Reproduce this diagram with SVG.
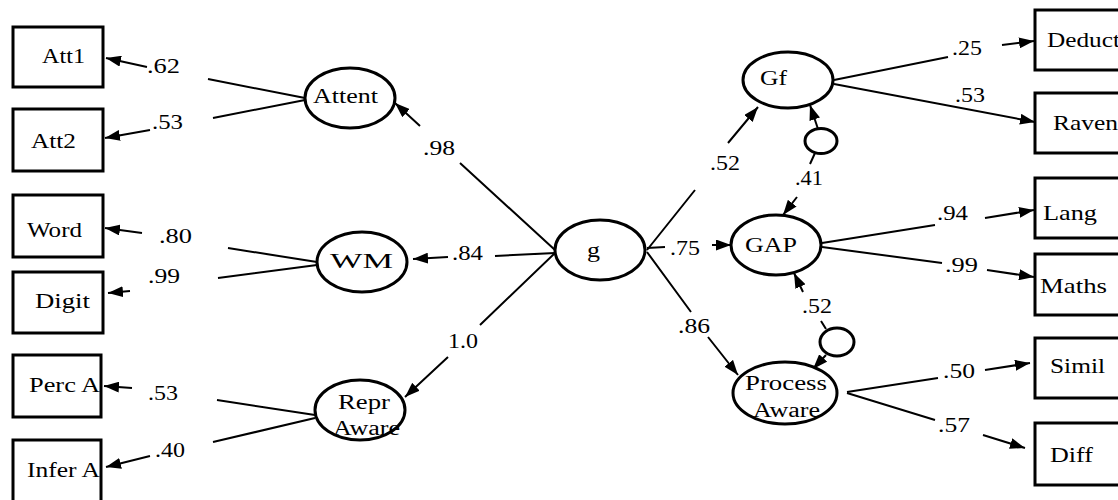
<svg xmlns="http://www.w3.org/2000/svg" width="1118" height="500" viewBox="0 0 1118 500">
<style>
text{fill:#000}
.n{font-size:22px}
.s{font-size:20px}
.v{font-size:21px}
.box{fill:#fff;stroke:#000;stroke-width:3}
.ell{fill:#fff;stroke:#000;stroke-width:3}
.c{fill:none;stroke:#000;stroke-width:2}
</style>
<defs>
<marker id="ah" markerUnits="userSpaceOnUse" markerWidth="15" markerHeight="11" refX="15" refY="5.5" orient="auto">
<path d="M0,0 L15,5.5 L0,11 z" fill="#000"/>
</marker>
</defs>
<rect width="1118" height="500" fill="#fff"/>
<g id="connectors">
<path class="c" d="M305,98 L208,79 M147,67 L106,58" marker-end="url(#ah)"/>
<path class="c" d="M305,100 L213,118 M150,130 L105,138" marker-end="url(#ah)"/>
<path class="c" d="M317,262 L228,248 M142,233 L105,228" marker-end="url(#ah)"/>
<path class="c" d="M317,265 L218,278 M130,291 L108,293" marker-end="url(#ah)"/>
<path class="c" d="M315,415 L217,400 M132,388 L104,386" marker-end="url(#ah)"/>
<path class="c" d="M315,418 L213,442 M150,456 L106,467" marker-end="url(#ah)"/>
<path class="c" d="M555,250 L460,163 M420,126 L395,103" marker-end="url(#ah)"/>
<path class="c" d="M555,253 L495,256 M448,257 L413,259" marker-end="url(#ah)"/>
<path class="c" d="M555,253 L480,325 M448,357 L405,397" marker-end="url(#ah)"/>
<path class="c" d="M647,250 L695,190 M728,143 L758,107" marker-end="url(#ah)"/>
<path class="c" d="M647,248 L665,247 M712,245 L731,245" marker-end="url(#ah)"/>
<path class="c" d="M647,252 L691,312 M708,337 L738,375" marker-end="url(#ah)"/>
<path class="c" d="M818,129 L810,105" marker-end="url(#ah)"/>
<path class="c" d="M815,153 L810,164 M797,197 L783,215" marker-end="url(#ah)"/>
<path class="c" d="M826,329 L821,321 M803,292 L794,273" marker-end="url(#ah)"/>
<path class="c" d="M826,355 L813,369" marker-end="url(#ah)"/>
<path class="c" d="M834,80 L948,57 M1002,45 L1034,41" marker-end="url(#ah)"/>
<path class="c" d="M834,84 L1035,122" marker-end="url(#ah)"/>
<path class="c" d="M822,243 L935,225 M985,218 L1034,210" marker-end="url(#ah)"/>
<path class="c" d="M822,247 L942,263 M987,270 L1034,277" marker-end="url(#ah)"/>
<path class="c" d="M847,392 L938,378 M985,370 L1030,363" marker-end="url(#ah)"/>
<path class="c" d="M847,393 L935,420 M983,435 L1025,448" marker-end="url(#ah)"/>
</g>
<g id="labels" font-family="Liberation Serif, Times New Roman, serif">
<text class="v" x="147" y="73" textLength="33" lengthAdjust="spacingAndGlyphs">.62</text>
<text class="v" x="152" y="129" textLength="31" lengthAdjust="spacingAndGlyphs">.53</text>
<text class="v" x="159" y="243" textLength="33" lengthAdjust="spacingAndGlyphs">.80</text>
<text class="v" x="148" y="283" textLength="32" lengthAdjust="spacingAndGlyphs">.99</text>
<text class="v" x="148" y="400" textLength="30" lengthAdjust="spacingAndGlyphs">.53</text>
<text class="v" x="155" y="457" textLength="30" lengthAdjust="spacingAndGlyphs">.40</text>
<text class="v" x="423" y="155" textLength="32" lengthAdjust="spacingAndGlyphs">.98</text>
<text class="v" x="452" y="260" textLength="31" lengthAdjust="spacingAndGlyphs">.84</text>
<text class="v" x="448" y="348" textLength="30" lengthAdjust="spacingAndGlyphs">1.0</text>
<text class="v" x="710" y="170" textLength="30" lengthAdjust="spacingAndGlyphs">.52</text>
<text class="v" x="670" y="255" textLength="30" lengthAdjust="spacingAndGlyphs">.75</text>
<text class="v" x="678" y="333" textLength="32" lengthAdjust="spacingAndGlyphs">.86</text>
<text class="v" x="795" y="185" textLength="28" lengthAdjust="spacingAndGlyphs">.41</text>
<text class="v" x="802" y="313" textLength="30" lengthAdjust="spacingAndGlyphs">.52</text>
<text class="v" x="952" y="55" textLength="30" lengthAdjust="spacingAndGlyphs">.25</text>
<text class="v" x="955" y="102" textLength="30" lengthAdjust="spacingAndGlyphs">.53</text>
<text class="v" x="937" y="220" textLength="31" lengthAdjust="spacingAndGlyphs">.94</text>
<text class="v" x="945" y="272" textLength="33" lengthAdjust="spacingAndGlyphs">.99</text>
<text class="v" x="943" y="378" textLength="32" lengthAdjust="spacingAndGlyphs">.50</text>
<text class="v" x="938" y="432" textLength="32" lengthAdjust="spacingAndGlyphs">.57</text>
</g>
<g id="nodes" font-family="Liberation Serif, Times New Roman, serif">
<g id="Att1"><rect class="box" x="13" y="27" width="90" height="60"/><text class="n" x="42" y="63" textLength="43" lengthAdjust="spacingAndGlyphs">Att1</text></g>
<g id="Att2"><rect class="box" x="13" y="109" width="90" height="62"/><text class="n" x="31" y="148" textLength="45" lengthAdjust="spacingAndGlyphs">Att2</text></g>
<g id="Word"><rect class="box" x="13" y="195" width="90" height="62"/><text class="n" x="27" y="237" textLength="55" lengthAdjust="spacingAndGlyphs">Word</text></g>
<g id="Digit"><rect class="box" x="13" y="272" width="90" height="61"/><text class="n" x="35" y="308" textLength="55" lengthAdjust="spacingAndGlyphs">Digit</text></g>
<g id="PercA"><rect class="box" x="13" y="355" width="88" height="62"/><text class="n" x="29" y="392" textLength="71" lengthAdjust="spacingAndGlyphs">Perc A</text></g>
<g id="InferA"><rect class="box" x="13" y="440" width="88" height="62"/><text class="n" x="27" y="477" textLength="73" lengthAdjust="spacingAndGlyphs">Infer A</text></g>
<g id="Attent"><ellipse class="ell" cx="350" cy="98" rx="45" ry="30"/><text class="n" x="313" y="103" textLength="65" lengthAdjust="spacingAndGlyphs">Attent</text></g>
<g id="WM"><ellipse class="ell" cx="362" cy="262" rx="45" ry="30"/><text class="n" x="330" y="268" textLength="63" lengthAdjust="spacingAndGlyphs">WM</text></g>
<g id="ReprAware"><ellipse class="ell" cx="360" cy="410" rx="45" ry="30"/><text class="s" x="338" y="409" textLength="52" lengthAdjust="spacingAndGlyphs">Repr</text><text class="s" x="333" y="435" textLength="67" lengthAdjust="spacingAndGlyphs">Aware</text></g>
<g id="g"><ellipse class="ell" cx="600" cy="250" rx="45" ry="30"/><text class="n" x="587" y="257" textLength="13" lengthAdjust="spacingAndGlyphs">g</text></g>
<g id="Gf"><ellipse class="ell" cx="788" cy="80" rx="45" ry="28"/><text class="n" x="760" y="85" textLength="27" lengthAdjust="spacingAndGlyphs">Gf</text></g>
<g id="GAP"><ellipse class="ell" cx="776" cy="245" rx="45" ry="30"/><text class="n" x="745" y="252" textLength="52" lengthAdjust="spacingAndGlyphs">GAP</text></g>
<g id="ProcessAware"><ellipse class="ell" cx="785" cy="393" rx="52" ry="31"/><text class="s" x="745" y="390" textLength="82" lengthAdjust="spacingAndGlyphs">Process</text><text class="s" x="753" y="417" textLength="67" lengthAdjust="spacingAndGlyphs">Aware</text></g>
<g id="e1"><ellipse class="ell" cx="821" cy="141" rx="16" ry="12.5"/></g>
<g id="e2"><ellipse class="ell" cx="837" cy="342" rx="17" ry="14"/></g>
<g id="Deduct"><rect class="box" x="1035" y="10" width="100" height="60"/><text class="n" x="1047" y="47" textLength="73" lengthAdjust="spacingAndGlyphs">Deduct</text></g>
<g id="Raven"><rect class="box" x="1035" y="93" width="100" height="60"/><text class="n" x="1053" y="130" textLength="65" lengthAdjust="spacingAndGlyphs">Raven</text></g>
<g id="Lang"><rect class="box" x="1035" y="178" width="100" height="60"/><text class="n" x="1043" y="220" textLength="54" lengthAdjust="spacingAndGlyphs">Lang</text></g>
<g id="Maths"><rect class="box" x="1035" y="254" width="100" height="61"/><text class="n" x="1040" y="293" textLength="67" lengthAdjust="spacingAndGlyphs">Maths</text></g>
<g id="Simil"><rect class="box" x="1035" y="338" width="100" height="60"/><text class="n" x="1050" y="373" textLength="55" lengthAdjust="spacingAndGlyphs">Simil</text></g>
<g id="Diff"><rect class="box" x="1035" y="423" width="100" height="62"/><text class="n" x="1050" y="462" textLength="43" lengthAdjust="spacingAndGlyphs">Diff</text></g>
</g>
</svg>
